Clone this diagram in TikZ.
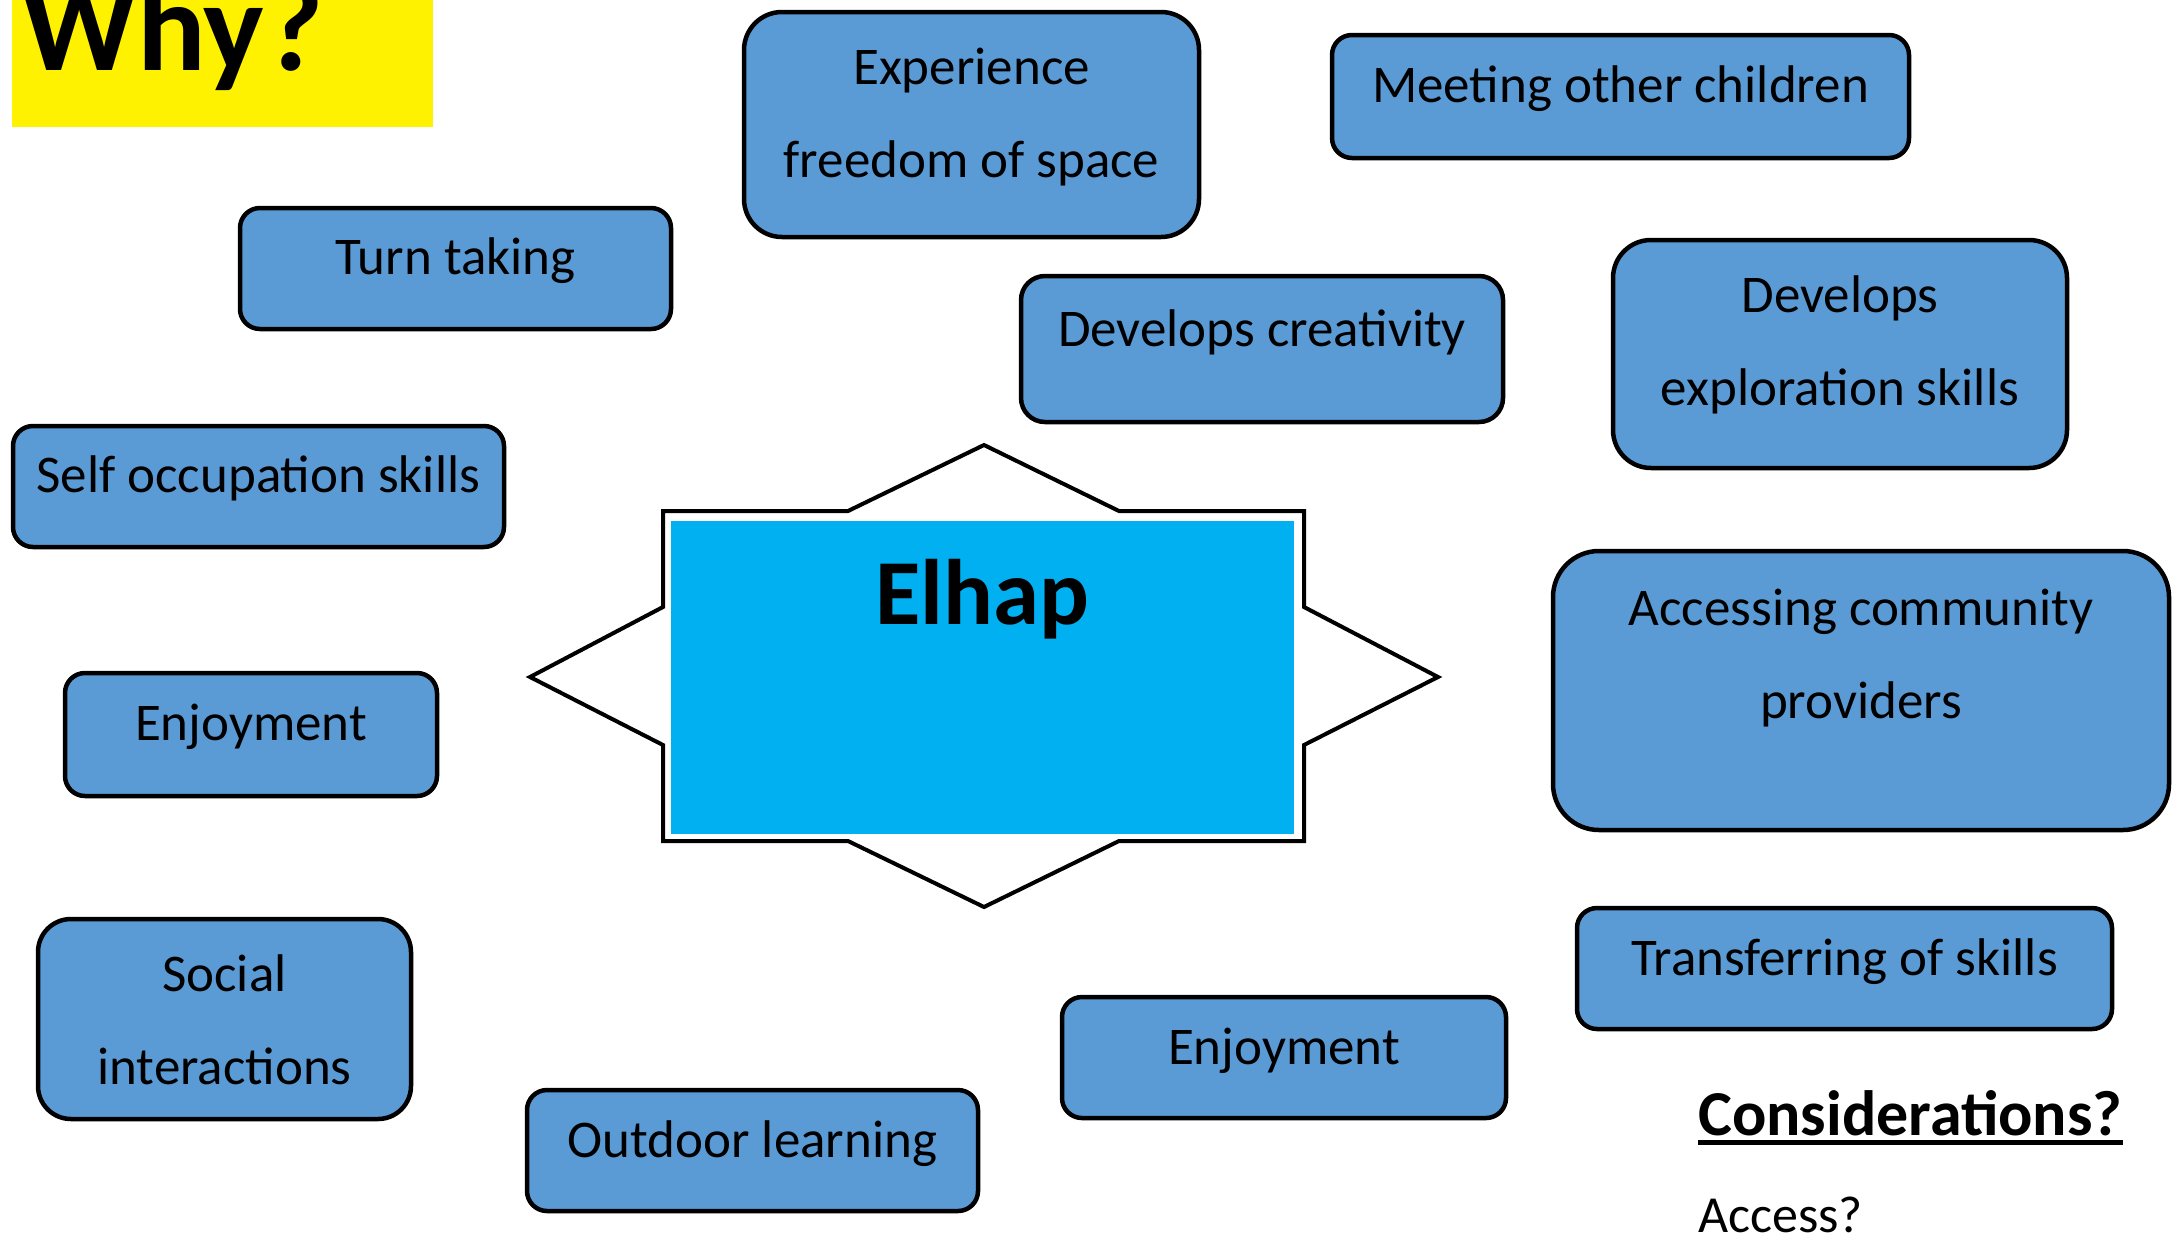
\documentclass[tikz,border=0pt]{standalone}
\usepackage{fontspec}
\setmainfont{Carlito}
\usepackage{tikz}
\usetikzlibrary{positioning}

\definecolor{boxblue}{HTML}{5B9BD5}
\definecolor{elhapblue}{HTML}{00B0F0}

\begin{document}
\begin{tikzpicture}[x=1pt,y=-1pt,
  pbox/.style={draw, line width=4.5pt, fill=boxblue, rounded corners=#1, inner sep=0pt},
  pbox/.default=20pt,
  ptext/.style={anchor=base, inner sep=0pt, font=\fontsize{53}{64}\selectfont}]
  \useasboundingbox (0,0) rectangle (2179,1240);
  \clip (0,0) rectangle (2179,1240);

  % title
  \node[fill=yellow, anchor=north west, inner sep=0pt, minimum width=421, minimum height=127] (whybox) at (12,0) {};
  \node[anchor=base west, inner sep=0pt, font=\fontsize{128}{135}\selectfont\bfseries] (why) at (21,70) {Why?};

  % centre star
  \draw[line width=4pt, fill=white] (530,677) -- (663,607) -- (663,511) -- (848,511)
  -- (984,445) -- (1119,511) -- (1304,511) -- (1304,607)
  -- (1438,677) -- (1304,745) -- (1304,841) -- (1119,841)
  -- (984,907) -- (848,841) -- (663,841) -- (663,745) -- cycle;
  \node[fill=elhapblue, inner sep=0pt, minimum width=623, minimum height=313] (elhapbox) at (982.5,677.5) {};
  \node[anchor=base, inner sep=0pt, font=\fontsize{93}{100}\selectfont\bfseries] (elhap) at ([yshift=-104pt]elhapbox.north) {Elhap};

  % boxes
  \node[pbox=38pt, minimum width=455, minimum height=225] (expbox) at (971.5,124.5) {};
  \node[ptext] (exp1) at ([yshift=-75pt]expbox.north) {Experience};
  \node[ptext] (exp2) at ([yshift=-93pt]exp1.base) {freedom of space};

  \node[pbox, minimum width=577, minimum height=123] (meetbox) at (1620.5,96.5) {};
  \node[ptext] (meet) at ([yshift=-70pt]meetbox.north) {Meeting other children};

  \node[pbox, minimum width=431, minimum height=121] (turnbox) at (455.5,268.5) {};
  \node[ptext] (turn) at ([yshift=-69pt]turnbox.north) {Turn taking};

  \node[pbox=24pt, minimum width=482, minimum height=146] (creatbox) at (1262,349) {};
  \node[ptext] (creat) at ([yshift=-73pt]creatbox.north) {Develops creativity};

  \node[pbox=38pt, minimum width=454, minimum height=228] (explbox) at (1840,354) {};
  \node[ptext] (expl1) at ([yshift=-75pt]explbox.north) {Develops};
  \node[ptext] (expl2) at ([yshift=-93pt]expl1.base) {exploration skills};

  \node[pbox, minimum width=491, minimum height=121] (selfbox) at (258.5,486.5) {};
  \node[ptext] (self) at ([yshift=-69pt]selfbox.north) {Self occupation skills};

  \node[pbox=46pt, minimum width=616, minimum height=279] (accbox) at (1861,690.5) {};
  \node[ptext] (acc1) at ([yshift=-77pt]accbox.north) {Accessing community};
  \node[ptext] (acc2) at ([yshift=-93pt]acc1.base) {providers};

  \node[pbox, minimum width=372, minimum height=123] (enjoyabox) at (251,734.5) {};
  \node[ptext] (enjoya) at ([yshift=-70pt]enjoyabox.north) {Enjoyment};

  \node[pbox=33pt, minimum width=373, minimum height=200] (socbox) at (224.5,1019) {};
  \node[ptext] (soc1) at ([yshift=-75pt]socbox.north) {Social};
  \node[ptext] (soc2) at ([yshift=-93pt]soc1.base) {interactions};

  \node[pbox, minimum width=535, minimum height=121] (transbox) at (1844.5,968.5) {};
  \node[ptext] (trans) at ([yshift=-70pt]transbox.north) {Transferring of skills};

  \node[pbox, minimum width=444, minimum height=121] (enjoybbox) at (1284,1057.5) {};
  \node[ptext] (enjoyb) at ([yshift=-70pt]enjoybbox.north) {Enjoyment};

  \node[pbox, minimum width=451, minimum height=121] (outbox) at (752.5,1150.5) {};
  \node[ptext] (out) at ([yshift=-70pt]outbox.north) {Outdoor learning};

  % considerations
  \node[anchor=base west, inner sep=0pt, font=\fontsize{64}{70}\selectfont\bfseries] (consid) at (1698,1135) {Considerations?};
  \draw[line width=5pt] ([yshift=-7pt]consid.base west) -- ([yshift=-7pt]consid.base east);
  \node[anchor=base west, inner sep=0pt, font=\fontsize{52}{60}\selectfont] (access) at (1698,1232) {Access?};
\end{tikzpicture}
\end{document}
